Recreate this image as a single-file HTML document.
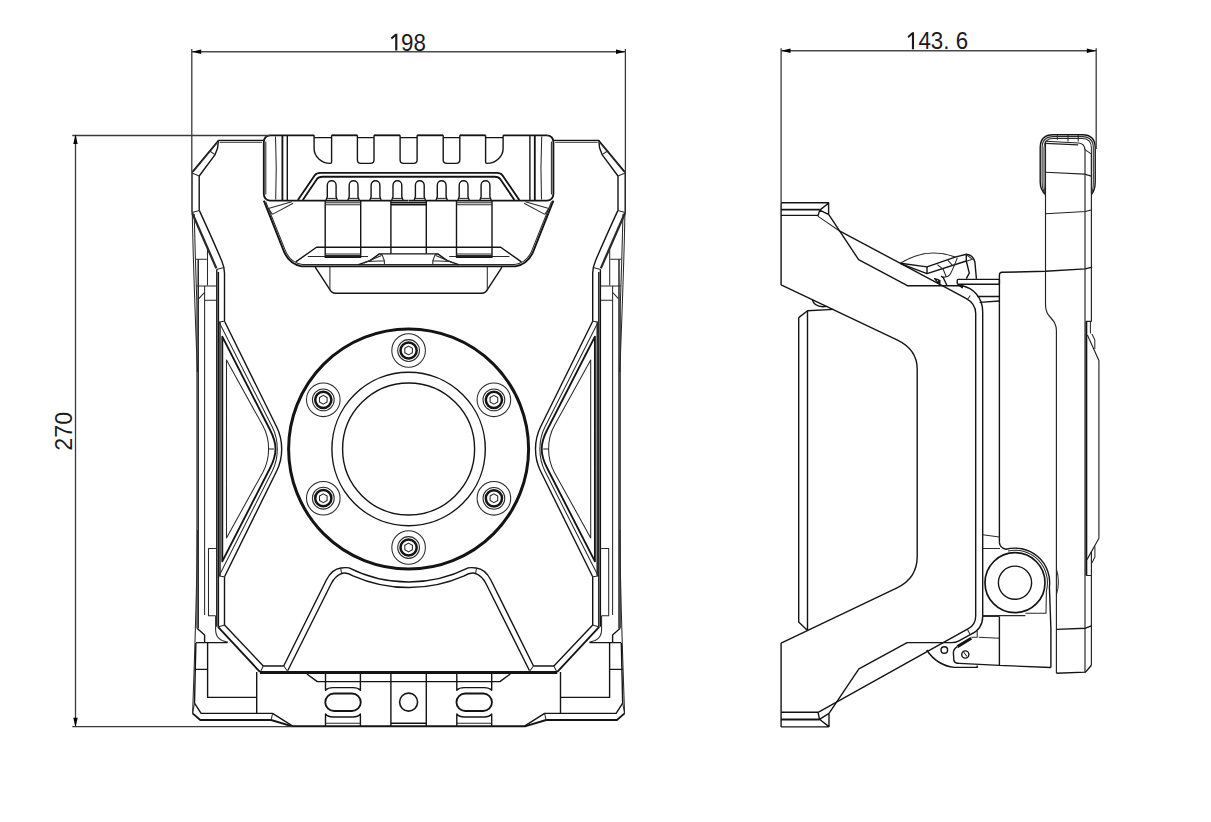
<!DOCTYPE html>
<html><head><meta charset="utf-8"><title>Dimension drawing</title>
<style>
html,body{margin:0;padding:0;background:#fff}
svg{display:block}
path,circle,polygon{fill:none;stroke:#141414;stroke-linecap:butt;stroke-linejoin:round}
.kk{stroke-width:3}
.k{stroke-width:1.85}
.kb{stroke-width:2.3;stroke:#2a2a2a}
.n{stroke-width:1.15;stroke:#222}
.m,.c{stroke-width:1.4}
.t,.ct{stroke-width:1.05;stroke:#2a2a2a}
.d{stroke-width:1.3;stroke:#3a3a3a;stroke-linecap:butt}
.dh{stroke-width:1.4;stroke:#4a4a4a;stroke-linecap:butt}
.a{fill:#000;stroke:none}
text{font-family:"Liberation Sans",sans-serif;font-size:23.5px;fill:#1a1a1a}
</style></head><body>
<svg width="1211" height="822" viewBox="0 0 1211 822">
<rect width="1211" height="822" fill="#fff" stroke="none"/>
<defs><clipPath id="cl"><rect x="0" y="0" width="409" height="822"/></clipPath><clipPath id="cr"><rect x="409" y="0" width="802" height="822"/></clipPath></defs>
<g clip-path="url(#cl)"><g id="fh"><path class="m" d="M218.4 140.4H263.8"/><path class="t" d="M219.5 142.3H262"/><path class="m" d="M218.4 140.4L192 172.2V212.8"/><path class="t" d="M217.2 142.8L193.2 172"/><path class="m" d="M218.4 140.4L217.6 148L215.1 154.6L199.2 176V210.6"/><path class="t" d="M209.3 150.8L215.1 154.6"/><path class="t" d="M192 173L199.2 176M192 212.6L199.4 210.6"/><path class="kb" d="M192.2 213L216.4 268.4"/><path class="m" d="M199.4 210.6Q212 238 221.6 260.5Q224.4 267 224.5 273V321.1"/><path class="t" d="M216.6 269.5L223.9 267.6"/><path class="t" d="M192.3 213C193 260 195.8 330 197.4 372"/><path class="t" d="M194.2 214C194.8 240 196 280 196.9 305V628.5"/><path class="m" d="M198.2 259.3V628.5"/><path class="t" d="M197.4 530C197 590 193.8 680 192.6 713.4"/><path class="t" d="M195.8 259.3H206.8M207.5 249.4V285.2M196.3 286H216.5M204.6 286V615M198.6 298.8L204.1 292.8M204.6 300.2H216.5"/><path class="m" d="M216.8 269.5V626.8"/><path class="m" d="M218.4 272V626.8"/><path class="m" d="M220 322V576"/><path class="m" d="M224.5 321.3L276.7 427.0C279.9 433.5 281.7 440.6 281.7 449.0C281.7 457.4 279.9 464.5 276.7 471.0L224.5 576.7"/><path class="t" d="M219.4 322.7L272.3 427.0C275.6 433.5 277.3 440.6 277.3 449.0C277.3 457.4 275.6 464.5 272.3 471.0L219.4 575.3"/><path class="k" d="M222.3 336.6L270.1 430.0C273.0 435.6 275.5 441.8 275.5 449.0C275.5 456.2 273.0 462.4 270.1 468.0L222.3 561.4Z"/><path class="t" d="M226.5 360.1L262.8 425.6C266.5 432.4 268.6 440.1 268.6 449.0C268.6 457.9 266.5 465.6 262.8 472.4L226.5 537.9Z"/><path class="t" d="M268.6 449H274"/><path class="t" d="M219 321.9L224.5 321.3M219 576.1L224.5 576.7"/><path class="m" d="M224.5 576.7V625.1L263.3 666H283.7"/><path class="t" d="M218 627L224.5 625.1M263.3 666L260.3 671.9M283.7 666L287.8 671.5"/><path class="k" d="M218 626.8L259.9 671.9"/><path class="t" d="M216 548.5H208.5V615.7H215.6"/><path class="t" d="M215.6 615.7V630Q215.8 637.5 222 640.5L228 642.2"/><path class="m" d="M197.3 628.5L204.6 635V642.4M196 642.6H227.5M207.6 642.6V697.4H256.5M194.5 669.4H207.4M256.7 672V713.4"/><path class="k" d="M192.6 713.4L200.3 720H271.1L292.3 726.3"/><path class="m" d="M195.9 643L194.5 703.2L201.1 713.4H272.6L292.3 725.8"/><path class="t" d="M192.6 713.4L194.5 703.2M271.1 720L272.6 713.4"/><path class="kk" d="M259.9 672.6H410.1"/><path class="k" d="M292 726.2H410.1"/><path class="m" d="M306.9 674L317.3 681.6H410.1"/><path class="m" d="M325.5 674V690.2Q328 687.6 333 687.6H353Q358 687.6 360.4 690.2V674"/><path class="m" d="M325.5 726V714Q328 717 333 717H353Q358 717 360.4 714V726"/><path class="t" d="M325.5 723.2H360.4"/><path class="k" d="M334 693.5H352A8.75 8.75 0 0 1 352 711H334A8.75 8.75 0 0 1 334 693.5Z"/><path class="m" d="M390.9 674V726M390.9 723.2H410.1"/><path class="m" d="M283.7 666L326.5 579.8Q332 569 341 568Q345.5 567.4 349 567.9A133 133 0 0 0 410.1 582.0"/><path class="m" d="M287.8 670.5L330.9 584.2Q335.5 575 342.6 573.2Q347.5 572.3 353 575.8A138.5 138.5 0 0 0 410.1 587.5"/><path class="t" d="M340.6 568.2L341.6 573.4"/><path class="k" d="M408.6 200.6H270Q264 200 263.8 194V142Q264 135.8 270 135.3"/><path class="k" d="M270 135.3H314.1"/><path class="k" d="M331.6 135.3H357.4"/><path class="k" d="M374 135.3H400.1"/><path class="m" d="M314.1 137.6H331.6M357.4 137.6H374M400.1 137.6H410.1"/><path class="m" d="M314.1 135.3V148.6A16.5 14.8 0 0 0 330.4 163.4Q331.6 163.4 331.6 162V135.3"/><path class="m" d="M357.4 135.3V160Q357.4 163.4 361 163.4H370.4Q374 163.4 374 160V135.3"/><path class="m" d="M400.1 135.3V160Q400.1 163.4 403.7 163.4H410.1"/><path class="t" d="M265.8 141.5V194.5"/><path class="t" d="M275.5 136.5Q276.9 168 275.7 199.5"/><path class="k" d="M282.4 136V200"/><path class="m" d="M287.3 136V200"/><path class="k" d="M297.9 200L314.8 175.2Q316.5 172.8 320.3 172.8H410.1"/><path class="k" d="M302.8 200L317 178.9Q318.5 176.7 322.5 176.7H410.1"/><path class="m" d="M327.3 197V185.2A4.4 4.4 0 0 1 336.1 185.2V197M327.3 196.8L326.1 200M336.1 196.8L337.3 200"/><path class="t" d="M326.7 198.4H336.7"/><path class="m" d="M349.2 197V185.2A4.4 4.4 0 0 1 358.0 185.2V197M349.2 196.8L348.0 200M358.0 196.8L359.2 200"/><path class="t" d="M348.6 198.4H358.6"/><path class="m" d="M371.1 197V185.2A4.4 4.4 0 0 1 379.9 185.2V197M371.1 196.8L369.9 200M379.9 196.8L381.1 200"/><path class="t" d="M370.5 198.4H380.5"/><path class="m" d="M393.0 197V185.2A4.4 4.4 0 0 1 401.8 185.2V197M393.0 196.8L391.8 200M401.8 196.8L403.0 200"/><path class="t" d="M392.4 198.4H402.4"/><path class="k" d="M263.8 200.6L283.8 251.2Q289 264 301.8 266.4H410.1"/><path class="t" d="M265.6 201.5L285.4 250.6Q290 262.5 302.5 264.6H410.1"/><path class="t" d="M268.4 208.4L291.8 201.7M272.4 214.4L293.1 203.3M268.4 208.4L272.4 214.4"/><path class="m" d="M295.8 261.9L316.5 247.2H410.1"/><path class="t" d="M307.8 256.5H368"/><path class="m" d="M325.2 200.6V257.2H360.7V200.6"/><path class="t" d="M325.2 202.7H360.7M325.2 204.7H360.7M325.2 253.9H360.7M325.2 255.4H360.7"/><path class="m" d="M390.9 200.6V253.8M390.9 202.7H410.1M390.9 204.7H410.1"/><path class="m" d="M358.5 264.7L370 260.6L379.3 253.9H410.1"/><path class="t" d="M379.3 253.9L382 254.6L384.4 260.8V264.8M368 261.6L384.4 260.8M364 263L381.5 255.5"/><path class="m" d="M315.2 267.2L329.2 288.6Q331.5 293.2 335.5 293.2H410.1"/><path class="t" d="M329.9 267V289.5"/></g></g>
<g clip-path="url(#cr)"><use href="#fh" transform="matrix(-1 0 0 1 817.2 0)"/></g>
<circle class="c" cx="408.6" cy="449.0" r="120" style="stroke-width:3"/>
<circle class="c" cx="408.6" cy="449.0" r="76.7"/><circle class="c" cx="408.6" cy="449.0" r="66"/>
<circle class="ct" cx="408.6" cy="350.5" r="16.8"/><circle class="ct" cx="408.6" cy="350.5" r="10.9"/><circle class="c" cx="408.6" cy="350.5" r="8.1" style="stroke-width:2.5"/><polygon class="ct" points="408.60,354.90 404.79,352.70 404.79,348.30 408.60,346.10 412.41,348.30 412.41,352.70"/>
<circle class="ct" cx="323.3" cy="399.8" r="16.8"/><circle class="ct" cx="323.3" cy="399.8" r="10.9"/><circle class="c" cx="323.3" cy="399.8" r="8.1" style="stroke-width:2.5"/><polygon class="ct" points="323.30,404.15 319.49,401.95 319.49,397.55 323.30,395.35 327.11,397.55 327.11,401.95"/>
<circle class="ct" cx="323.3" cy="498.2" r="16.8"/><circle class="ct" cx="323.3" cy="498.2" r="10.9"/><circle class="c" cx="323.3" cy="498.2" r="8.1" style="stroke-width:2.5"/><polygon class="ct" points="323.30,502.65 319.49,500.45 319.49,496.05 323.30,493.85 327.11,496.05 327.11,500.45"/>
<circle class="ct" cx="408.6" cy="547.5" r="16.8"/><circle class="ct" cx="408.6" cy="547.5" r="10.9"/><circle class="c" cx="408.6" cy="547.5" r="8.1" style="stroke-width:2.5"/><polygon class="ct" points="408.60,551.90 404.79,549.70 404.79,545.30 408.60,543.10 412.41,545.30 412.41,549.70"/>
<circle class="ct" cx="493.9" cy="498.3" r="16.8"/><circle class="ct" cx="493.9" cy="498.3" r="10.9"/><circle class="c" cx="493.9" cy="498.3" r="8.1" style="stroke-width:2.5"/><polygon class="ct" points="493.90,502.65 490.09,500.45 490.09,496.05 493.90,493.85 497.71,496.05 497.71,500.45"/>
<circle class="ct" cx="493.9" cy="399.8" r="16.8"/><circle class="ct" cx="493.9" cy="399.8" r="10.9"/><circle class="c" cx="493.9" cy="399.8" r="8.1" style="stroke-width:2.5"/><polygon class="ct" points="493.90,404.15 490.09,401.95 490.09,397.55 493.90,395.35 497.71,397.55 497.71,401.95"/>
<circle class="c" cx="408.6" cy="702.1" r="9" style="stroke-width:1.6"/>
<path class="m" d="M781.1 202.7V285M781.1 643.1V726.9"/><path class="m" d="M781.1 202.7H828.6V214.7M781.1 215.4H817.8M819.8 210.1L828.5 203.2M819.8 210.1L828.8 214.7M819.8 210.1L817.8 216.1"/><path class="k" d="M781.1 209.6H819.8"/><path class="t" d="M817.8 216.1L839.9 231.2"/><path class="m" d="M828.8 214.7L858.6 259.6L907.4 285.7H962.3"/><path class="m" d="M839.9 231.2L945.5 287.3L965.5 298.2Q975.7 303.6 975.7 313.5V615.9Q975.7 624.5 968.3 628.7L818.1 712.3"/><path class="m" d="M962.3 285.8C972 288 982.7 296 982.7 312V616.4Q982.7 629 970.3 634.7L958.4 641.1Q955.5 642.6 952 642.6H907.1L858.9 668.9L829 713.4"/><path class="t" d="M970.3 295.5L967.3 299.5M967.3 629.2L970.3 634.7"/><path class="m" d="M781.1 284.8L897 339.9Q917.2 349.5 917.2 369V556.4Q917.2 578 897 587.8L781.1 643.1"/><path class="m" d="M798.7 317.6V622L807.5 630.4M807.5 310.8V630.4M798.7 317.6L807.5 310.8L833.3 309.4"/><path class="m" d="M812.3 299.7C813.5 304.5 818 307.6 826.7 306.4"/><path class="m" d="M781.1 712.3H818.1M781.1 726.9H828.9M829 713.4V726.9M818.1 712.3L819.5 719.3L829 713.4M819.5 719.3L828.6 726.4"/><path class="k" d="M781.1 719.5H819.5"/><path class="m" d="M958.2 279.4H999.4V284.3H958.2Q957.2 284.2 957.2 283V280.6Q957.2 279.5 958.2 279.4M958.2 284.6L962.3 287.7V284.6"/><path class="m" d="M977.2 296.5H999.4M979.6 302.4L999.4 301"/><path class="m" d="M999.4 542.7V275Q999.4 272.5 1002 272.3L1045.3 271.3L1085.3 268.9L1092.1 267.1"/><path class="t" d="M982.7 534.7L999.3 537M982.7 548.5H1000"/><path class="m" d="M999.4 542.7Q1000 548 1006 549.3A34.6 34.6 0 0 1 1049.4 587L1050.9 629V667.5"/><path class="t" d="M982.7 615.6H1025.4M1008 551A32.5 32.5 0 0 1 1046.4 591L1046 613.2H1025.4"/><path class="m" d="M999.4 616.5V665.4L1050.9 667.5"/><path class="t" d="M982.7 616.4H999.4M978.7 637.2L999.4 638.2"/><circle class="c" cx="1015" cy="582.7" r="30" style="stroke-width:1.7"/><circle class="c" cx="1015" cy="582.7" r="16.6"/><path class="n" d="M1045.5 141.5V305C1045.5 319 1056.4 317 1056.4 331V673"/><path class="t" d="M1056.4 569Q1060.4 582 1056.4 595"/><path class="n" d="M1085 149.3V672.2"/><path class="n" d="M1091.4 154.2V321.3H1086M1091.4 552V665.2"/><path class="k" d="M1086.4 321.3V575.5"/><path class="n" d="M1087.4 334.9L1098.9 360.4V538.3L1087 559.6"/><path class="t" d="M1090.4 322V333.5M1092 334L1094.8 340V349"/><path class="t" d="M1094.9 546.3V557L1091.9 563M1086 575.5H1091.9"/><path class="m" d="M1056.4 629.4L1085.5 628.2L1091.4 625.9M1056.4 673.2L1085.5 672.1L1091.4 665.2"/><path class="n" d="M1045.6 172.2L1084.5 174.1L1091.3 176.1M1045.6 213.7L1085.5 211.5L1092 209.8"/><path class="m" d="M1045.6 194.6Q1040.2 190 1040.2 182V147.7Q1040.2 134.7 1053.2 134.7H1082.2Q1095.2 134.7 1095.2 147.7V182Q1095.2 190 1091.4 194.6"/><path class="t" d="M1045.6 194.0Q1042.1000000000001 190 1042.1000000000001 182V147.7Q1042.1000000000001 136.6 1053.2 136.6H1082.2Q1093.3 136.6 1093.3 147.7V182Q1093.3 190 1091.4 194.0"/><path class="t" d="M1045.6 193.5Q1044.0 190 1044.0 182V147.7Q1044.0 138.5 1053.2 138.5H1082.2Q1091.4 138.5 1091.4 147.7V182Q1091.4 190 1091.4 193.5"/><path class="n" d="M1045.6 141.3L1078.5 143Q1084.6 143.6 1084.9 149.5M1045.6 143.4L1078.2 144.9"/><path class="t" d="M1084.7 149.3L1091.4 154.2"/><path class="t" d="M1057.3 134.7V139.8M1068 134.7V141.4M1078.2 134.7V141.4"/><path class="t" d="M900.4 263.3Q927 246.5 955.6 257.2"/><path class="m" d="M900.4 263.3L927 266.9L955.9 256.9L966.3 254.3Q973.2 255 974.9 262L976.4 278.9"/><path class="m" d="M900.6 263.6L927 273.6L966.3 261L969.3 273.2L966.3 278.6M927 266.9V273.6M966.3 254.5V261"/><path class="t" d="M966.3 254.6L972.5 259.3L967 260.9"/><path class="t" d="M937.4 264.7L943.3 269.5L946.3 277M947.8 260.2L952.2 265.1M957.4 257.6Q953.5 268 950 274.7Q947.5 277.6 942.6 277"/><path class="m" d="M934.6 278.6L938.8 279.9V283.6ZM941.1 276.2L943.3 277.7L947 285.5M939.8 280V285"/><path class="m" d="M926.7 650Q937 665.5 954.4 667.4H977.2V665.4"/><circle class="c" cx="944.3" cy="650" r="3.3"/><circle class="c" cx="965.3" cy="654.5" r="3.6"/><path class="t" d="M963.3 651.8L967 656.5"/><path class="m" d="M957.4 646.6Q953 649 953.4 653.5L953.9 660.5Q954.5 663.2 959.4 663.4L999.4 665.4"/><path class="kk" d="M957.4 646.6L971.3 638.2"/><path class="t" d="M971.3 637.2H977.2V630.7"/>
<path class="d" d="M191.8 49V172M625.4 49V172"/><path class="dh" d="M191.8 51.7H625.4"/><path class="d" d="M781.1 48.3V202.7M1096.2 48.3V149"/><path class="dh" d="M781.1 50.8H1096.2"/><path class="d" d="M72.3 135.5H270M72.3 726.6H292M75.5 135.5V726.6"/><polygon class="a" points="191.8,51.7 201.2,49.5 201.2,53.9"/><polygon class="a" points="625.4,51.7 616.0,53.9 616.0,49.5"/><polygon class="a" points="781.1,50.8 790.5,48.6 790.5,53.0"/><polygon class="a" points="1096.2,50.8 1086.8,53.0 1086.8,48.6"/><polygon class="a" points="75.5,134.6 77.7,144.0 73.3,144.0"/><polygon class="a" points="75.5,727.2 73.3,717.8 77.7,717.8"/><polygon class="a" style="fill:#1a1a1a" points="390.90,37.60 395.40,33.70 397.35,33.70 397.35,50.50 395.20,50.50 395.20,36.40 391.85,39.40"/><text transform="translate(401.0 50.6) scale(0.95 1)" text-anchor="start">98</text><polygon class="a" style="fill:#1a1a1a" points="907.60,36.20 912.10,32.30 914.05,32.30 914.05,49.30 911.90,49.30 911.90,35.00 908.55,38.00"/><text transform="translate(918.4 49.3) scale(0.95 1)" text-anchor="start">43.</text><text transform="translate(968.2 49.3) scale(0.95 1)" text-anchor="end">6</text><text transform="translate(72.0 431.3) rotate(-90) scale(0.99 1)" text-anchor="middle">270</text>
</svg>
</body></html>
